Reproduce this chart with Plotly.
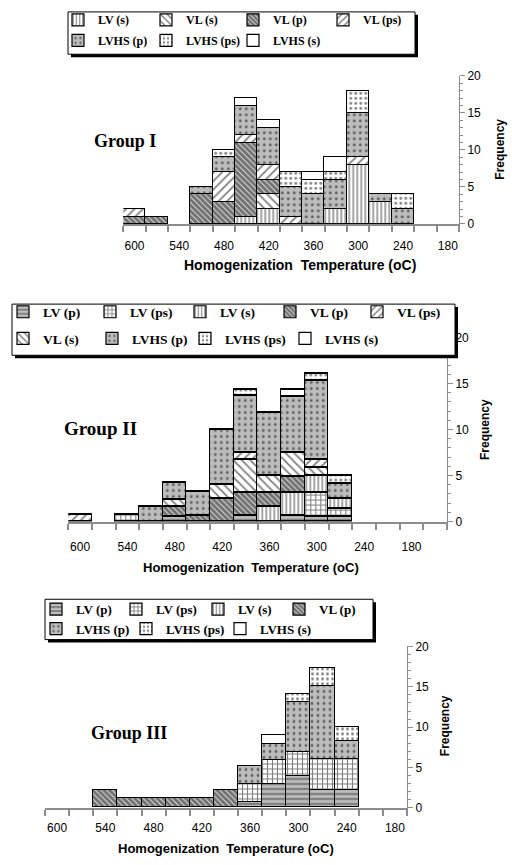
import plotly.graph_objects as go

# ---------------- data ----------------
bins = [600, 570, 540, 510, 480, 450, 420, 390, 360, 330, 300, 270, 240, 210, 180]
x_tick_labels = [600, 540, 480, 420, 360, 300, 240, 180]
y_tick_labels = [0, 5, 10, 15, 20]

# Group I
g1_lv_s    = [0, 0, 0, 0, 0, 1, 2, 0, 0, 2, 8, 3, 0, 0, 0]
g1_vl_s    = [0, 0, 0, 0, 0, 0, 2, 0, 0, 0, 0, 0, 0, 0, 0]
g1_vl_p    = [1, 1, 0, 4, 3, 10, 2, 0, 0, 0, 0, 0, 0, 0, 0]
g1_vl_ps   = [1, 0, 0, 0, 4, 1, 2, 1, 0, 0, 1, 0, 0, 0, 0]
g1_lvhs_p  = [0, 0, 0, 1, 2, 4, 5, 4, 4, 4, 6, 1, 2, 0, 0]
g1_lvhs_ps = [0, 0, 0, 0, 1, 0, 0, 2, 2, 1, 3, 0, 2, 0, 0]
g1_lvhs_s  = [0, 0, 0, 0, 0, 1, 1, 0, 1, 2, 0, 0, 0, 0, 0]

# Group II
g2_lv_p    = [0, 0, 0, 0, 0.5, 0, 0, 0.6, 0, 0.6, 0.5, 0.5, 0, 0, 0]
g2_lv_ps   = [0, 0, 0.8, 0, 0, 0, 0, 0, 0, 0, 2.7, 0.9, 0, 0, 0]
g2_lv_s    = [0, 0, 0, 0, 0, 0, 0, 0, 1.6, 2.5, 1.8, 1.1, 0, 0, 0]
g2_vl_p    = [0, 0, 0, 0, 1.1, 0.7, 2.5, 2.6, 1.6, 1.8, 0, 0, 0, 0, 0]
g2_vl_ps   = [0.8, 0, 0, 0, 0, 0, 0, 0.8, 0, 0, 0.8, 0, 0, 0, 0]
g2_vl_s    = [0, 0, 0, 0, 0.8, 0, 1.5, 3.5, 1.8, 2.6, 0.9, 0, 0, 0, 0]
g2_lvhs_p  = [0, 0, 0, 1.6, 1.8, 2.6, 6.0, 6.2, 6.9, 6.1, 8.6, 1.6, 0, 0, 0]
g2_lvhs_ps = [0, 0, 0, 0, 0, 0, 0, 0.7, 0, 0, 0.8, 0.9, 0, 0, 0]
g2_lvhs_s  = [0, 0, 0, 0, 0, 0, 0, 0, 0, 0.8, 0, 0, 0, 0, 0]

# Group III
g3_lv_p    = [0, 0, 0, 0, 0, 0, 0, 0, 0.7, 2.9, 3.9, 2.1, 2.1, 0, 0]
g3_lv_ps   = [0, 0, 0, 0, 0, 0, 0, 0, 2.2, 3.0, 3.0, 3.9, 3.9, 0, 0]
g3_lv_s    = [0, 0, 0, 0, 0, 0, 0, 0, 0, 0, 0, 0, 0, 0, 0]
g3_vl_p    = [0, 0, 2.2, 1.1, 1.1, 1.1, 1.1, 2.2, 0, 0, 0, 0, 0, 0, 0]
g3_lvhs_p  = [0, 0, 0, 0, 0, 0, 0, 0, 2.2, 2.0, 6.2, 9.1, 2.2, 0, 0]
g3_lvhs_ps = [0, 0, 0, 0, 0, 0, 0, 0, 0, 0, 1.0, 2.2, 1.8, 0, 0]
g3_lvhs_s  = [0, 0, 0, 0, 0, 0, 0, 0, 0, 1.1, 0, 0, 0, 0, 0]

group_titles = ["Group I", "Group II", "Group III"]
x_title = "Homogenization  Temperature (oC)"
y_title = "Frequency"

# ---------------- styles / layout helpers ----------------
W, H = 512, 865
def fx(p):
    return p / W
def fy(p):
    return 1 - p / H

styles = {
    "LV (p)":    dict(shape="-", bg="#bdbdbd", size=5, sol=0.3),
    "LV (ps)":   dict(shape="+", bg="white", size=5, sol=0.4),
    "LV (s)":    dict(shape="|", bg="white", size=4, sol=0.35),
    "VL (p)":    dict(shape="\\", bg="#e0e0e0", size=4, sol=0.75),
    "VL (ps)":   dict(shape="/", bg="white", size=6, sol=0.3),
    "VL (s)":    dict(shape="\\", bg="white", size=6, sol=0.3),
    "LVHS (p)":  dict(shape=".", bg="#bdbdbd", size=6, sol=0.18),
    "LVHS (ps)": dict(shape=".", bg="white", size=5, sol=0.25),
    "LVHS (s)":  dict(shape="", bg="white", size=5, sol=0.2),
}

groups = [
    dict(series=[("LV (s)", g1_lv_s), ("VL (s)", g1_vl_s), ("VL (p)", g1_vl_p),
                 ("VL (ps)", g1_vl_ps), ("LVHS (p)", g1_lvhs_p),
                 ("LVHS (ps)", g1_lvhs_ps), ("LVHS (s)", g1_lvhs_s)],
         rows=[["LV (s)", "VL (s)", "VL (p)", "VL (ps)"],
               ["LVHS (p)", "LVHS (ps)", "LVHS (s)"]],
         legends=["legend", "legend2"], xa="x", ya="y"),
    dict(series=[("LV (p)", g2_lv_p), ("LV (ps)", g2_lv_ps), ("LV (s)", g2_lv_s),
                 ("VL (p)", g2_vl_p), ("VL (s)", g2_vl_s), ("VL (ps)", g2_vl_ps),
                 ("LVHS (p)", g2_lvhs_p), ("LVHS (ps)", g2_lvhs_ps),
                 ("LVHS (s)", g2_lvhs_s)],
         rows=[["LV (p)", "LV (ps)", "LV (s)", "VL (p)", "VL (ps)"],
               ["VL (s)", "LVHS (p)", "LVHS (ps)", "LVHS (s)"]],
         legends=["legend3", "legend4"], xa="x2", ya="y2"),
    dict(series=[("LV (p)", g3_lv_p), ("LV (ps)", g3_lv_ps), ("LV (s)", g3_lv_s),
                 ("VL (p)", g3_vl_p), ("LVHS (p)", g3_lvhs_p),
                 ("LVHS (ps)", g3_lvhs_ps), ("LVHS (s)", g3_lvhs_s)],
         rows=[["LV (p)", "LV (ps)", "LV (s)", "VL (p)"],
               ["LVHS (p)", "LVHS (ps)", "LVHS (s)"]],
         legends=["legend5", "legend6"], xa="x3", ya="y3"),
]

legend_pos = {
    "legend":  dict(x=58, y=13, widths=[43, 42, 45, 45], size=12),
    "legend2": dict(x=58, y=34, widths=[43, 42, 45], size=12),
    "legend3": dict(x=3, y=310, widths=[42, 45, 45, 42, 45], size=13.5),
    "legend4": dict(x=3, y=337, widths=[44, 48, 55, 55], size=13.5),
    "legend5": dict(x=36, y=612, widths=[35, 37, 36, 40], size=13),
    "legend6": dict(x=36, y=632, widths=[45, 49, 50], size=13),
}

fig = go.Figure()
for g in groups:
    for name, vals in g["series"]:
        st = styles[name]
        row = 0 if name in g["rows"][0] else 1
        leg = g["legends"][row]
        lw = legend_pos[leg]["widths"][g["rows"][row].index(name)]
        fig.add_trace(go.Bar(
            x=bins, y=[v if v else None for v in vals], width=30, name=name,
            xaxis=g["xa"], yaxis=g["ya"], legend=leg, legendwidth=lw,
            marker=dict(color=st["bg"], line=dict(color="black", width=1.2),
                        pattern=dict(shape=st["shape"], bgcolor=st["bg"],
                                     fgcolor="black", size=st["size"],
                                     solidity=st["sol"])),
            hoverinfo="x+y+name",
        ))

# panel geometry (pixels)
panels = [
    dict(x0=123.3, x1=459, ytop=70, ybot=220.5, xr=[615, 165], tl=10),
    dict(x0=68.3, x1=447, ytop=336, ybot=523, xr=[615, 135], tl=13),
    dict(x0=45, x1=407, ytop=650, ybot=814, xr=[615, 165], tl=8),
]

layout = dict(
    width=W, height=H, margin=dict(l=0, r=0, t=0, b=0),
    paper_bgcolor="white", plot_bgcolor="white",
    barmode="stack", bargap=0, showlegend=True,
)
for i, p in enumerate(panels):
    sfx = "" if i == 0 else str(i + 1)
    edges = [b + 15 for b in bins] + [bins[-1] - 15, bins[-1] - 45]
    layout["xaxis" + sfx] = dict(
        domain=[fx(p["x0"]), fx(p["x1"])], range=p["xr"], anchor="y" + sfx,
        tickvals=x_tick_labels, ticks="outside", ticklen=p["tl"],
        tickcolor="rgba(0,0,0,0)", showline=True, linecolor="#8c8c8c",
        linewidth=2, showgrid=False, zeroline=False,
        tickfont=dict(family="Liberation Sans", size=12, color="black"),
        minor=dict(tickmode="array", tickvals=edges, ticks="outside", ticklen=6,
                   tickwidth=2, tickcolor="#8c8c8c", showgrid=False),
    )
    layout["yaxis" + sfx] = dict(
        domain=[fy(p["ybot"]), fy(p["ytop"])], range=[0, 20], anchor="x" + sfx,
        side="right", tickvals=y_tick_labels, ticks="outside", ticklen=5,
        tickcolor="#8c8c8c", showline=True, linecolor="#8c8c8c", linewidth=1,
        showgrid=False, zeroline=False,
        tickfont=dict(family="Liberation Sans", size=12, color="black"),
        minor=dict(dtick=1, ticks="outside", ticklen=3, tickcolor="#8c8c8c",
                   showgrid=False),
    )

for leg, lp in legend_pos.items():
    layout[leg] = dict(
        x=fx(lp["x"]), y=fy(lp["y"]), xanchor="left", yanchor="middle",
        orientation="h", bgcolor="rgba(0,0,0,0)", borderwidth=0,
        traceorder="normal", itemwidth=30,
        font=dict(family="Liberation Serif", size=lp["size"], color="black",
                  weight="bold"),
    )

fig.update_layout(**layout)

# legend frames with drop shadow
boxes = [(68, 5, 415, 48), (12, 302, 455, 354), (45, 602, 373, 643)]
for (x0, y0, x1, y1) in boxes:
    fig.add_shape(type="rect", xref="paper", yref="paper",
                  x0=fx(x0 + 3), x1=fx(x1 + 3), y0=fy(y1 + 3), y1=fy(y0 + 3),
                  fillcolor="black", line=dict(width=0))
    fig.add_shape(type="rect", xref="paper", yref="paper",
                  x0=fx(x0), x1=fx(x1), y0=fy(y1), y1=fy(y0),
                  fillcolor="white", line=dict(color="black", width=1))

# group labels
group_pos = [(125, 136, 18), (100, 428, 19), (129, 738, 18)]
for t, (x, y, s) in zip(group_titles, group_pos):
    fig.add_annotation(text=t, x=fx(x), y=fy(y), xref="paper", yref="paper",
                       showarrow=False, xanchor="center", yanchor="middle",
                       font=dict(family="Liberation Serif", size=s, color="black",
                                 weight="bold"))

# axis titles
xt_pos = [(300, 262, 14), (251, 570, 13), (226, 855, 13)]
for (x, y, s) in xt_pos:
    fig.add_annotation(text=x_title, x=fx(x), y=fy(y), xref="paper", yref="paper",
                       showarrow=False, xanchor="center", yanchor="middle",
                       font=dict(family="Liberation Sans", size=s, color="black",
                                 weight="bold"))
yt_pos = [(500, 145), (485, 430), (445, 731)]
for (x, y) in yt_pos:
    fig.add_annotation(text=y_title, x=fx(x), y=fy(y), xref="paper", yref="paper",
                       showarrow=False, textangle=-90, xanchor="center",
                       yanchor="middle",
                       font=dict(family="Liberation Sans", size=12, color="black",
                                 weight="bold"))

fig.write_html("out.html")
